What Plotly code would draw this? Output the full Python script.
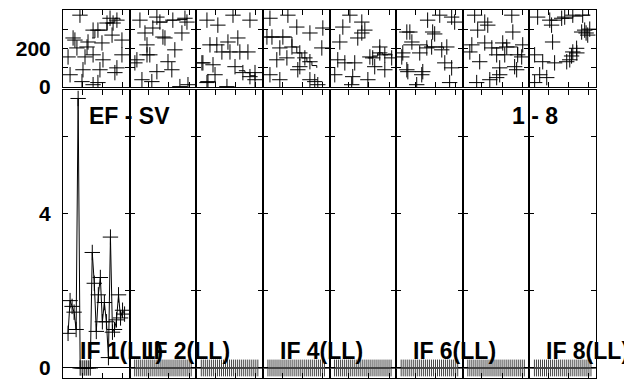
import plotly.graph_objects as go
from plotly.subplots import make_subplots

# phase panel (top): one list per IF column, x = channel, y = phase (deg)
top_x = [
    [8.9, 23.8, 22.3, 25.3, 27.2, 15.4, 17.8, 5.5, 6.4, 7.4, 12.9, 12.4, 19.8, 24.8, 29.7, 3.0, 11.4, 15.4, 20.3, 29.7, 4.0, 10.4, 18.8, 27.2, 26.2, 9.9, 15.4, 17.8],
    [5.6, 14.0, 15.5, 21.9, 27.9, 28.9, 8.1, 12.0, 26.4, 17.0, 18.0, 9.1, 22.9, 4.1, 9.1, 10.5, 19.5, 21.4, 3.1, 14.0, 6.6, 11.5, 25.4, 29.4],
    [5.8, 11.2, 18.7, 27.1, 7.3, 13.2, 16.2, 17.2, 22.1, 26.1, 21.1, 3.8, 8.8, 19.7, 9.8, 23.6, 27.1, 29.6, 5.8, 15.7, 29.6, 3.3, 6.3, 10.7],
    [4.0, 12.9, 17.3, 23.8, 30.2, 5.0, 10.4, 14.9, 18.8, 21.3, 23.8, 8.9, 12.4, 7.4, 29.7, 4.0, 8.9, 23.8, 26.2, 27.7, 18.8, 17.8, 2.5],
    [10.6, 16.5, 18.0, 7.1, 5.6, 14.5, 16.5, 25.4, 20.5, 21.9, 25.4, 27.9, 31.3, 4.6, 8.1, 13.0, 27.9, 22.9, 3.1, 12.0, 19.5, 11.5],
    [5.8, 8.3, 3.3, 6.3, 22.1, 28.0, 29.5, 16.1, 7.3, 18.6, 19.6, 15.7, 23.1, 25.6, 18.1, 3.8, 12.2, 24.6, 28.0, 5.8, 13.2, 13.7, 10.7, 27.0],
    [6.4, 11.4, 12.9, 24.8, 7.9, 25.3, 5.0, 11.4, 20.3, 22.3, 14.9, 30.2, 4.0, 17.3, 21.3, 27.7, 29.7, 8.9, 18.8, 26.2, 27.2, 7.4, 13.9, 17.3, 18.8],
    [4.6, 10.6, 16.5, 18.0, 22.0, 26.9, 11.5, 26.4, 29.4, 27.9, 12.0, 22.0, 24.0, 20.5, 19.0, 3.1, 7.1, 13.0, 5.6, 9.1, 3.1, 30.4, 21.4, 23.9, 28.6],
]
top_y = [
    [373, 357, 332, 332, 347, 295, 295, 254, 243, 202, 233, 207, 228, 269, 243, 155, 155, 166, 140, 166, 62, 88, 88, 98, 73, 26, 10, 21],
    [347, 363, 337, 347, 357, 337, 280, 306, 280, 259, 254, 218, 192, 140, 166, 166, 130, 88, 124, 78, 36, 26, 0, 10],
    [347, 321, 373, 347, 218, 181, 233, 181, 181, 181, 254, 124, 114, 104, 62, 73, 52, 73, 21, 0, 36, 124, 26, 218],
    [357, 373, 311, 280, 306, 259, 259, 207, 176, 150, 130, 202, 150, 140, 202, 62, 36, 36, 26, 10, 104, 88, 259],
    [373, 337, 295, 311, 233, 254, 280, 207, 155, 150, 176, 166, 150, 140, 124, 124, 88, 104, 62, 52, 36, 10],
    [285, 233, 155, 78, 373, 363, 337, 347, 285, 285, 275, 202, 192, 207, 207, 176, 176, 124, 98, 88, 62, 78, 10, 21],
    [373, 337, 321, 373, 295, 285, 218, 228, 228, 207, 202, 218, 181, 166, 166, 166, 155, 130, 98, 104, 88, 21, 36, 47, 62],
    [363, 347, 357, 363, 373, 373, 321, 285, 269, 295, 233, 181, 176, 140, 130, 166, 130, 124, 62, 47, 21, 300, 160, 200, 280],
]

# staircase trace through the phase points
step_x = [
    [14.9, 16.3, 20.3, 22.3, 23.8, 26.2, 28.7],
    [14.0, 19.0, 24.0, 28.9],
    [21.6, 24.6, 27.1, 29.6],
    [2.5, 14.9, 17.3, 19.8, 22.3, 24.8, 27.2],
    [19.5, 21.9, 24.4, 26.9, 29.4, 31.3],
    [4.0, 12.0, 16.0, 21.0, 24.0],
    [14.9, 20.3, 22.3, 27.7, 29.7],
    [10.6, 16.5, 22.0, 26.9, 30.4],
]
step_y = [
    [254, 295, 295, 332, 337, 357, 347],
    [337, 347, 350, 357],
    [83, 73, 57, 62],
    [259, 207, 176, 150, 130, 110, 98],
    [150, 160, 176, 166, 170, 155],
    [218, 218, 207, 207, 197],
    [202, 228, 207, 166, 155],
    [347, 357, 368, 373, 373],
]

# amplitude panel (bottom)
amp_ch_if1 = [3, 4, 5, 6, 7, 8, 9, 10, 11, 12, 13, 14, 15, 16, 17, 18, 19, 20, 21, 22, 23, 24, 25, 26, 27, 28, 29, 30, 31]
amp_if1 = [0.9, 1.75, 1.6, 1.45, 1.0, 7.0, 0, 0, 0, 0, 0, 0, 3.0, 2.2, 0.95, 1.9, 2.35, 1.2, 1.7, 1.2, 0.27, 3.4, 0.93, 1.0, 1.25, 1.9, 1.3, 1.5, 1.4]
zero_ch = [3, 4, 5, 6, 7, 8, 9, 10, 11, 12, 13, 14, 15, 16, 17, 18, 19, 20, 21, 22, 23, 24, 25, 26, 27, 28, 29, 30, 31]
zero_amp = [0, 0, 0, 0, 0, 0, 0, 0, 0, 0, 0, 0, 0, 0, 0, 0, 0, 0, 0, 0, 0, 0, 0, 0, 0, 0, 0, 0, 0]

if_labels = ['IF 1(LL)', 'IF 2(LL)', '', 'IF 4(LL)', '', 'IF 6(LL)', '', 'IF 8(LL)']

W, H = 632, 382
OFF = 8  # page body margin puts the figure at (8, 8)
X0, X1, Y0, Y1 = 63, 596, 10, 378  # wanted plot box in window pixels
L, R = X0 - OFF, W - (X1 - OFF)
T, B = Y0 - OFF, H - (Y1 - OFF)
plot_w = X1 - X0
plot_h = Y1 - Y0


def px(x_px):
    return (x_px - X0) / plot_w


def py(y_px):
    return (Y1 - y_px) / plot_h


FONT = 'Liberation Sans, Arial, sans-serif'

fig = make_subplots(rows=2, cols=8, horizontal_spacing=0, vertical_spacing=0.01)

cross = dict(symbol='cross-thin-open', size=11, color='black', line=dict(width=1, color='black'))
cross_zero = dict(symbol='cross-thin-open', size=12, color='#444', line=dict(width=1, color='#444'))

for k in range(8):
    c = k + 1
    fig.add_trace(go.Scatter(x=top_x[k], y=top_y[k], mode='markers', marker=cross), row=1, col=c)
    fig.add_trace(go.Scatter(x=step_x[k], y=step_y[k], mode='lines',
                             line=dict(color='black', width=1, shape='hv')), row=1, col=c)
    if k == 0:
        fig.add_trace(go.Scatter(x=amp_ch_if1, y=amp_if1, mode='lines+markers',
                                 line=dict(color='black', width=1), marker=cross), row=2, col=c)
    else:
        fig.add_trace(go.Scatter(x=zero_ch, y=zero_amp, mode='markers', marker=cross_zero),
                      row=2, col=c)

axis_common = dict(showline=True, linecolor='black', linewidth=1, mirror='ticks',
                   ticks='inside', ticklen=5, tickcolor='black', showgrid=False,
                   automargin=False)

fig.update_xaxes(range=[0.5, 33.5], tickvals=[10, 20, 30], showticklabels=False,
                 zeroline=False, **axis_common)
fig.update_yaxes(range=[-2, 400], tickvals=[0, 100, 200, 300], ticktext=['0', '', '200', ''],
                 domain=[py(87), py(10)], zeroline=False, row=1, **axis_common)
fig.update_yaxes(range=[-0.26, 7.22], tickvals=[0, 2, 4, 6], ticktext=['0', '', '4', ''],
                 domain=[py(378), py(90)], zeroline=True, zerolinecolor='black', zerolinewidth=1,
                 row=2, **axis_common)
fig.update_yaxes(showticklabels=False)
fig.update_yaxes(showticklabels=True, col=1, ticklabelstandoff=7,
                 tickfont=dict(family=FONT, size=21, color='black', weight='bold'))

ann_font = dict(family=FONT, size=23, color='black', weight='bold')
fig.add_annotation(text='EF - SV', x=px(87), y=py(116), xref='paper', yref='paper',
                   xanchor='left', yanchor='middle', showarrow=False, font=ann_font)
fig.add_annotation(text='1 - 8', x=px(510), y=py(116), xref='paper', yref='paper',
                   xanchor='left', yanchor='middle', showarrow=False, font=ann_font)
for k, lab in enumerate(if_labels):
    if lab:
        fig.add_annotation(text=lab, x=px(X0 + k * plot_w / 8 + 15), y=py(351),
                           xref='paper', yref='paper', xanchor='left', yanchor='middle',
                           showarrow=False, font=ann_font)

fig.update_layout(width=W, height=H, margin=dict(l=L, r=R, t=T, b=B, autoexpand=False),
                  showlegend=False, plot_bgcolor='white', paper_bgcolor='white')

fig.write_html('out.html')
